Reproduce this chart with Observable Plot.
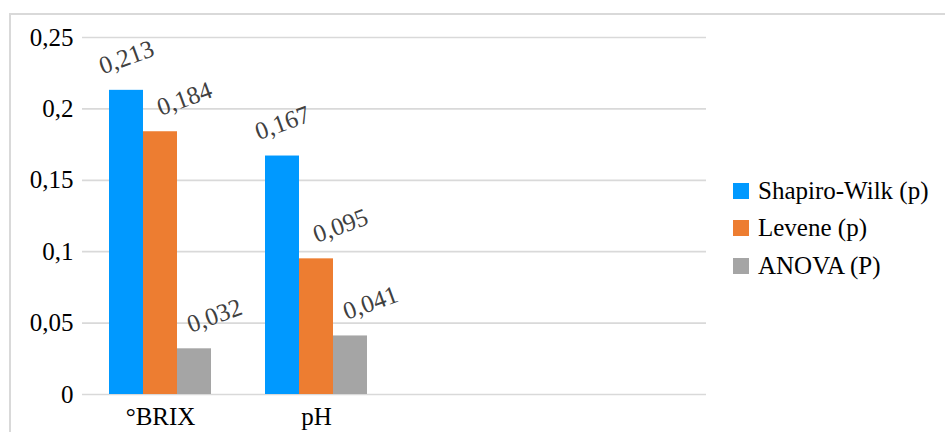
<!DOCTYPE html>
<html>
<head>
<meta charset="utf-8">
<script src="https://cdn.jsdelivr.net/npm/d3@7"></script>
<script src="https://cdn.jsdelivr.net/npm/@observablehq/plot@0.6"></script>
<style>
  html, body { margin: 0; padding: 0; background: #fff; }
  #wrap { position: relative; width: 945px; height: 432px; overflow: hidden; font-family: 'Liberation Serif', 'DejaVu Serif', serif; }
  #frame { position: absolute; left: 9px; top: 13px; width: 1000px; height: 1000px; border: 2px solid #d9d9d9; box-sizing: border-box; }
  #chart { position: absolute; left: 0; top: 0; }
  #legend { position: absolute; left: 733px; top: 172px; }
  .item { display: flex; align-items: center; height: 37.5px; font-size: 25px; color: #000; white-space: nowrap; font-family: 'Liberation Serif', 'DejaVu Serif', serif; }
  .swatch { width: 16px; height: 16px; margin-right: 9px; flex: none; }
  #chart svg, #chart svg text { font-family: 'Liberation Serif', 'DejaVu Serif', serif !important; }
</style>
</head>
<body>
<div id="wrap">
  <div id="frame"></div>
  <div id="chart"></div>
  <div id="legend"></div>
</div>
<script>
// Categories measured, and the p-values of each test
const categories = ["°BRIX", "pH"];
const seriesNames = ["Shapiro-Wilk (p)", "Levene (p)", "ANOVA (P)"];
const shapiroWilk = [0.213, 0.167];
const levene = [0.184, 0.095];
const anova = [0.032, 0.041];
const yTicks = [0, 0.05, 0.1, 0.15, 0.2, 0.25];
const colors = ["#0099ff", "#ed7d31", "#a5a5a5"];

// The category axis keeps room for four groups; the last two stay empty.
const slots = [...categories, "", " "];

const seriesValues = [shapiroWilk, levene, anova];
const rows = [];
seriesNames.forEach((s, si) => {
  categories.forEach((c, ci) => rows.push({category: c, series: s, value: seriesValues[si][ci]}));
});

// One gridline per tick in every group slot, so the grid runs across the empty ones too
const grid = slots.flatMap(slot => yTicks.map(t => ({slot, t})));

const comma = d => String(d).replace(".", ",");
// Horizontal nudge of the value labels, per series
const labelDx = [0, 24, 20];

const serif = "'Liberation Serif', 'DejaVu Serif', serif";

const chart = Plot.plot({
  width: 945,
  height: 432,
  marginLeft: 82,
  marginRight: 239,
  marginTop: 37,
  marginBottom: 38,
  style: {fontFamily: serif, fontSize: "25px", color: "#000", background: "transparent"},
  fx: {domain: slots, padding: 0, axis: "bottom", tickSize: 0, tickPadding: 13, label: null},
  x: {domain: seriesNames, paddingInner: 0, paddingOuter: 0.75, axis: null},
  y: {domain: [0, 0.25], ticks: yTicks, tickFormat: comma, tickSize: 0, tickPadding: 9, label: null},
  color: {domain: seriesNames, range: colors},
  marks: [
    Plot.ruleY(grid, {fx: "slot", y: "t", stroke: "#d9d9d9", strokeWidth: 1.7}),
    Plot.barY(rows, {fx: "category", x: "series", y: "value", fill: "series"}),
    ...seriesNames.map((s, i) =>
      Plot.text(rows.filter(d => d.series === s), {
        fx: "category", x: "series", y: "value",
        text: d => comma(d.value),
        rotate: -20, dy: -33, dx: labelDx[i],
        fill: "#404040", fontSize: 25, fontFamily: serif,
        textAnchor: "middle", lineAnchor: "middle"
      })
    )
  ]
});
document.getElementById("chart").appendChild(chart);

const legend = document.getElementById("legend");
seriesNames.forEach((s, i) => {
  const item = document.createElement("div");
  item.className = "item";
  const sw = document.createElement("span");
  sw.className = "swatch";
  sw.style.background = colors[i];
  const label = document.createElement("span");
  label.textContent = s;
  item.appendChild(sw);
  item.appendChild(label);
  legend.appendChild(item);
});
</script>
</body>
</html>
